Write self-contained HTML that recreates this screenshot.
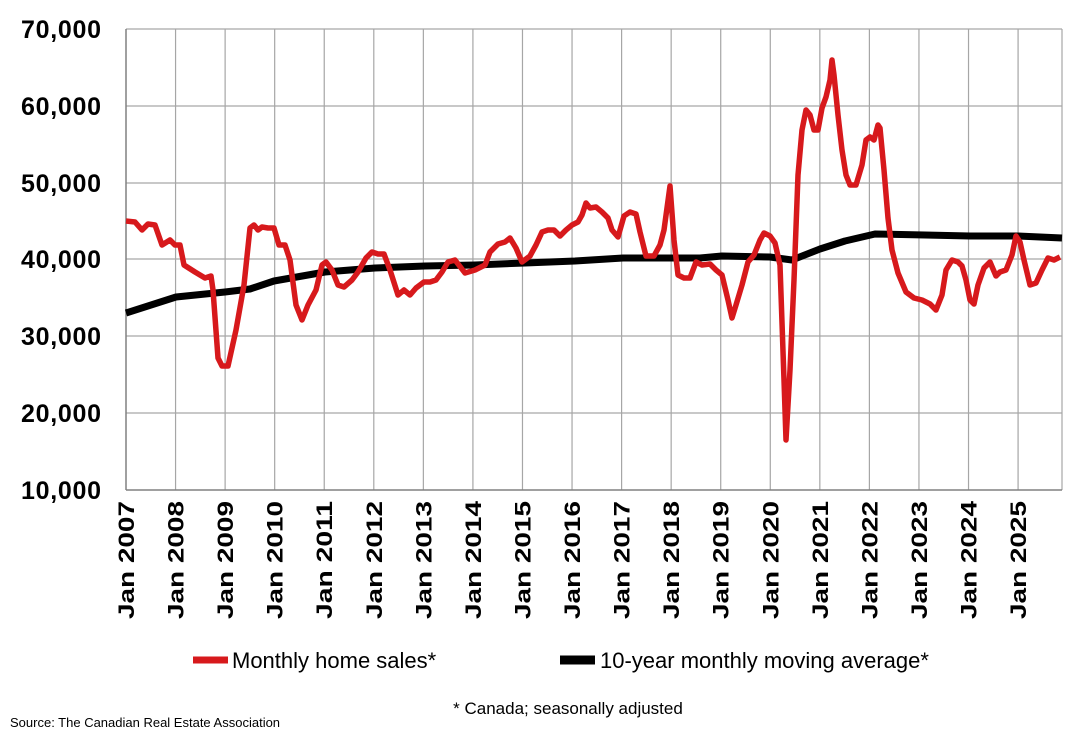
<!DOCTYPE html>
<html><head><meta charset="utf-8"><style>
body{margin:0;background:#fff;}
svg{display:block;font-family:"Liberation Sans",sans-serif;}
</style></head><body>
<svg width="1079" height="740" viewBox="0 0 1079 740" xmlns="http://www.w3.org/2000/svg">
<rect width="1079" height="740" fill="#fff"/>
<g stroke="#a6a6a6" stroke-width="1.2">
<line x1="126" y1="29" x2="1062" y2="29"/><line x1="126" y1="106" x2="1062" y2="106"/><line x1="126" y1="183" x2="1062" y2="183"/><line x1="126" y1="259" x2="1062" y2="259"/><line x1="126" y1="336" x2="1062" y2="336"/><line x1="126" y1="413" x2="1062" y2="413"/>
<line x1="1062" y1="29" x2="1062" y2="490"/>
</g>
<g id="vlines" stroke="#a6a6a6" stroke-width="1.2"></g>
<line x1="126" y1="490" x2="1062" y2="490" stroke="#808080" stroke-width="1.5"/>
<line x1="126" y1="29" x2="126" y2="490" stroke="#808080" stroke-width="1.5"/>
<g font-size="25" font-weight="bold" text-anchor="end" fill="#000">
<text x="101" y="38" textLength="80">70,000</text><text x="101" y="115" textLength="80">60,000</text><text x="101" y="192" textLength="80">50,000</text><text x="101" y="268" textLength="80">40,000</text><text x="101" y="345" textLength="80">30,000</text><text x="101" y="422" textLength="80">20,000</text><text x="101" y="499" textLength="80">10,000</text>
</g>
<g id="xl" font-size="22" font-weight="bold" fill="#000"></g>
<polyline fill="none" stroke="#000" stroke-width="7" stroke-linejoin="round" points="126,313 176,297 225,292 250,289 274,281 325,272 375,268 425,266 475,265 525,263 575,261 623,258 672,258 700,258 722,256 770,257 792,260 820,249 845,241 875,234 925,235 970,236 1018,236 1062,238"/>
<polyline fill="none" stroke="#d7191c" stroke-width="5.5" stroke-linejoin="round" points="126,221 135,222 142,230 148,224 155,225 162,245 170,240 175,245 180,245 184,265 195,272 205,278 211,276 213,290 218,358 222,366 228,366 236,330 244,285 250,228 254,225 258,230 262,227 268,228 274,228 279,245 285,245 290,260 296,305 302,320 308,305 316,290 322,265 326,262 332,270 338,285 344,287 352,280 358,272 366,258 372,252 378,254 384,254 390,270 398,295 404,290 410,295 416,288 424,282 430,282 436,280 442,272 448,262 455,260 465,273 475,270 485,265 490,252 498,244 505,242 510,238 516,248 522,262 530,256 536,245 542,232 548,230 554,230 560,236 566,230 572,225 578,222 582,215 586,203 590,208 596,207 602,212 608,218 612,230 618,237 624,216 630,212 636,214 640,232 646,256 654,256 660,245 664,230 670,186 674,240 678,275 684,278 690,278 696,262 702,265 710,264 716,270 722,275 728,300 732,318 736,305 742,285 748,262 754,255 760,240 764,233 770,236 775,243 780,265 784,380 786,440 790,370 794,280 798,175 802,130 806,110 810,115 814,130 818,130 822,108 826,97 830,80 832,60 834,75 838,115 842,150 846,175 850,185 856,185 862,165 866,140 870,137 874,140 878,125 880,128 884,170 888,218 892,250 898,273 906,292 914,298 922,300 930,304 936,310 942,295 946,270 952,260 958,262 962,266 966,280 970,300 974,304 978,285 984,268 990,262 996,276 1000,272 1006,270 1012,255 1016,236 1020,242 1024,260 1030,285 1036,283 1042,270 1048,258 1054,260 1060,257"/>
<line x1="193" y1="660" x2="228" y2="660" stroke="#d7191c" stroke-width="7"/>
<text x="232" y="668" font-size="22" fill="#000">Monthly home sales*</text>
<line x1="560" y1="660" x2="595" y2="660" stroke="#000" stroke-width="9"/>
<text x="600" y="668" font-size="22" fill="#000">10-year monthly moving average*</text>
<text x="568" y="714" font-size="17" text-anchor="middle" fill="#000">* Canada; seasonally adjusted</text>
<text x="10" y="727" font-size="13" fill="#000">Source: The Canadian Real Estate Association</text>
</svg>
<script>
var ns="http://www.w3.org/2000/svg",vl=document.getElementById("vlines"),xl=document.getElementById("xl");
for(var i=0;i<19;i++){var x=126+i*49.56;
if(i>0){var l=document.createElementNS(ns,"line");l.setAttribute("x1",x);l.setAttribute("x2",x);l.setAttribute("y1",29);l.setAttribute("y2",490);vl.appendChild(l);}
var t=document.createElementNS(ns,"text");t.setAttribute("transform","translate("+(x+8)+",619) rotate(-90)");t.setAttribute("textLength","118");t.setAttribute("lengthAdjust","spacingAndGlyphs");t.textContent="Jan "+(2007+i);xl.appendChild(t);}
</script>
</body></html>
